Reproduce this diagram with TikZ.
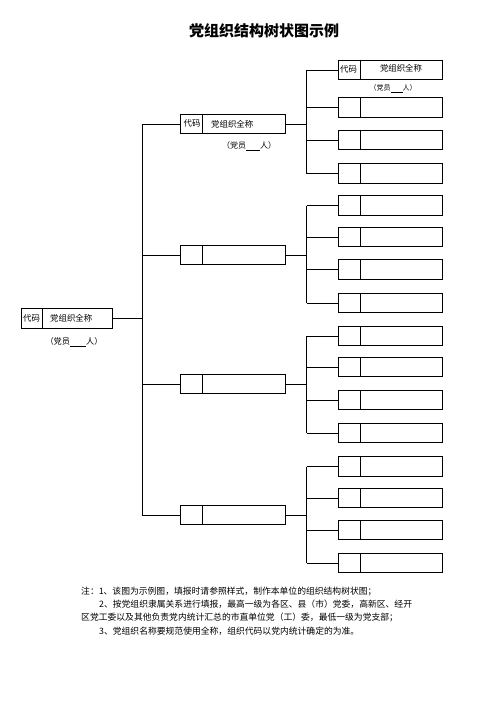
\documentclass[tikz,border=0pt]{standalone}
\usepackage{fontspec}
\setmainfont{Liberation Serif}
\newfontfamily\cjk{Noto Sans CJK SC}
\begin{document}
\begin{tikzpicture}[x=1pt,y=-1pt,
  ln/.style={line width=0.8pt, black},
  bx/.style={draw, line width=0.9pt, rectangle, inner sep=0pt, minimum height=19.5pt},
  rootbox/.style={bx, minimum width=91pt},
  midbox/.style={bx, minimum width=105pt},
  leafbox/.style={bx, minimum width=104pt},
  txt/.style={inner sep=0pt, font=\cjk\fontsize{8.4}{10}\selectfont},
  sub/.style={inner sep=0pt, font=\cjk\fontsize{8.2}{10}\selectfont},
  note/.style={inner sep=0pt, anchor=west, font=\cjk\fontsize{8.8}{10}\selectfont},
]
\useasboundingbox (0,0) rectangle (496,702);
% title
\node[inner sep=0pt, font=\cjk\bfseries\fontsize{15}{17}\selectfont] (title) at (264,31) {党组织结构树状图示例};

% root
\node[rootbox] (r) at (66.5,318.5) {};
\draw[ln] ([xshift=22pt]r.north west) -- ([xshift=22pt]r.south west);
\node[txt] (rcode) at (31.5,318.5) {代码};
\node[txt, anchor=west] (rname) at (50,318.5) {党组织全称};
\node[sub] (rmem) at (74,342) {（党员\underline{\hspace{16pt}}人）};

% level 2
\node[midbox] (a) at (232.5,124) {};
\node[midbox] (b) at (232.5,255) {};
\node[midbox] (c) at (232.5,384) {};
\node[midbox] (d) at (232.5,515) {};
\foreach \n in {a,b,c,d}{
  \draw[ln] ([xshift=22.5pt]\n.north west) -- ([xshift=22.5pt]\n.south west);
}
\node[txt] (acode) at (192,123.5) {代码};
\node[txt, anchor=west] (aname) at (211,124) {党组织全称};
\node[sub, font=\cjk\fontsize{8}{10}\selectfont] (amem) at (249,146.5) {（党员\underline{\hspace{14pt}}人）};

% trunk
\coordinate (t1) at (142,124);
\coordinate (t4) at (142,515);
\draw[ln] (r.east) -- (r.east -| t1);
\draw[ln] (t1) -- (t4);
\foreach \n in {a,b,c,d}{
  \draw[ln] (\n.west -| t1) -- (\n.west);
}

% level 3
\coordinate (gx) at (306.5,0);
\foreach \g/\ya/\yb/\yc/\yd in {a/70/107.5/140/173.5, b/205.5/237/269.5/303, c/336/367/400/433, d/466.5/498/530/563}{
  \node[leafbox] (\g1) at (390,\ya) {};
  \node[leafbox] (\g2) at (390,\yb) {};
  \node[leafbox] (\g3) at (390,\yc) {};
  \node[leafbox] (\g4) at (390,\yd) {};
  \foreach \i in {1,2,3,4}{
    \draw[ln] ([xshift=23pt]\g\i.north west) -- ([xshift=23pt]\g\i.south west);
    \draw[ln] (\g\i.west -| gx) -- (\g\i.west);
  }
  \draw[ln] (\g1.west -| gx) -- (\g4.west -| gx);
  \draw[ln] (\g.east) -- (\g.east -| gx);
}
\node[txt] (a1code) at (348.5,69) {代码};
\node[txt] (a1name) at (401,68.5) {党组织全称};
\node[sub, font=\cjk\fontsize{7}{8}\selectfont] (a1mem) at (393,89) {（党员\underline{\hspace{12pt}}人）};

% notes
\node[note] (n1) at (81,591) {注：1、该图为示例图，填报时请参照样式，制作本单位的组织结构树状图；};
\node[note] (n2) at (99,604) {2、按党组织隶属关系进行填报，最高一级为各区、县（市）党委，高新区、经开};
\node[note] (n3) at (81,617) {区党工委以及其他负责党内统计汇总的市直单位党（工）委，最低一级为党支部；};
\node[note] (n4) at (99,631) {3、党组织名称要规范使用全称，组织代码以党内统计确定的为准。};
\end{tikzpicture}
\end{document}
